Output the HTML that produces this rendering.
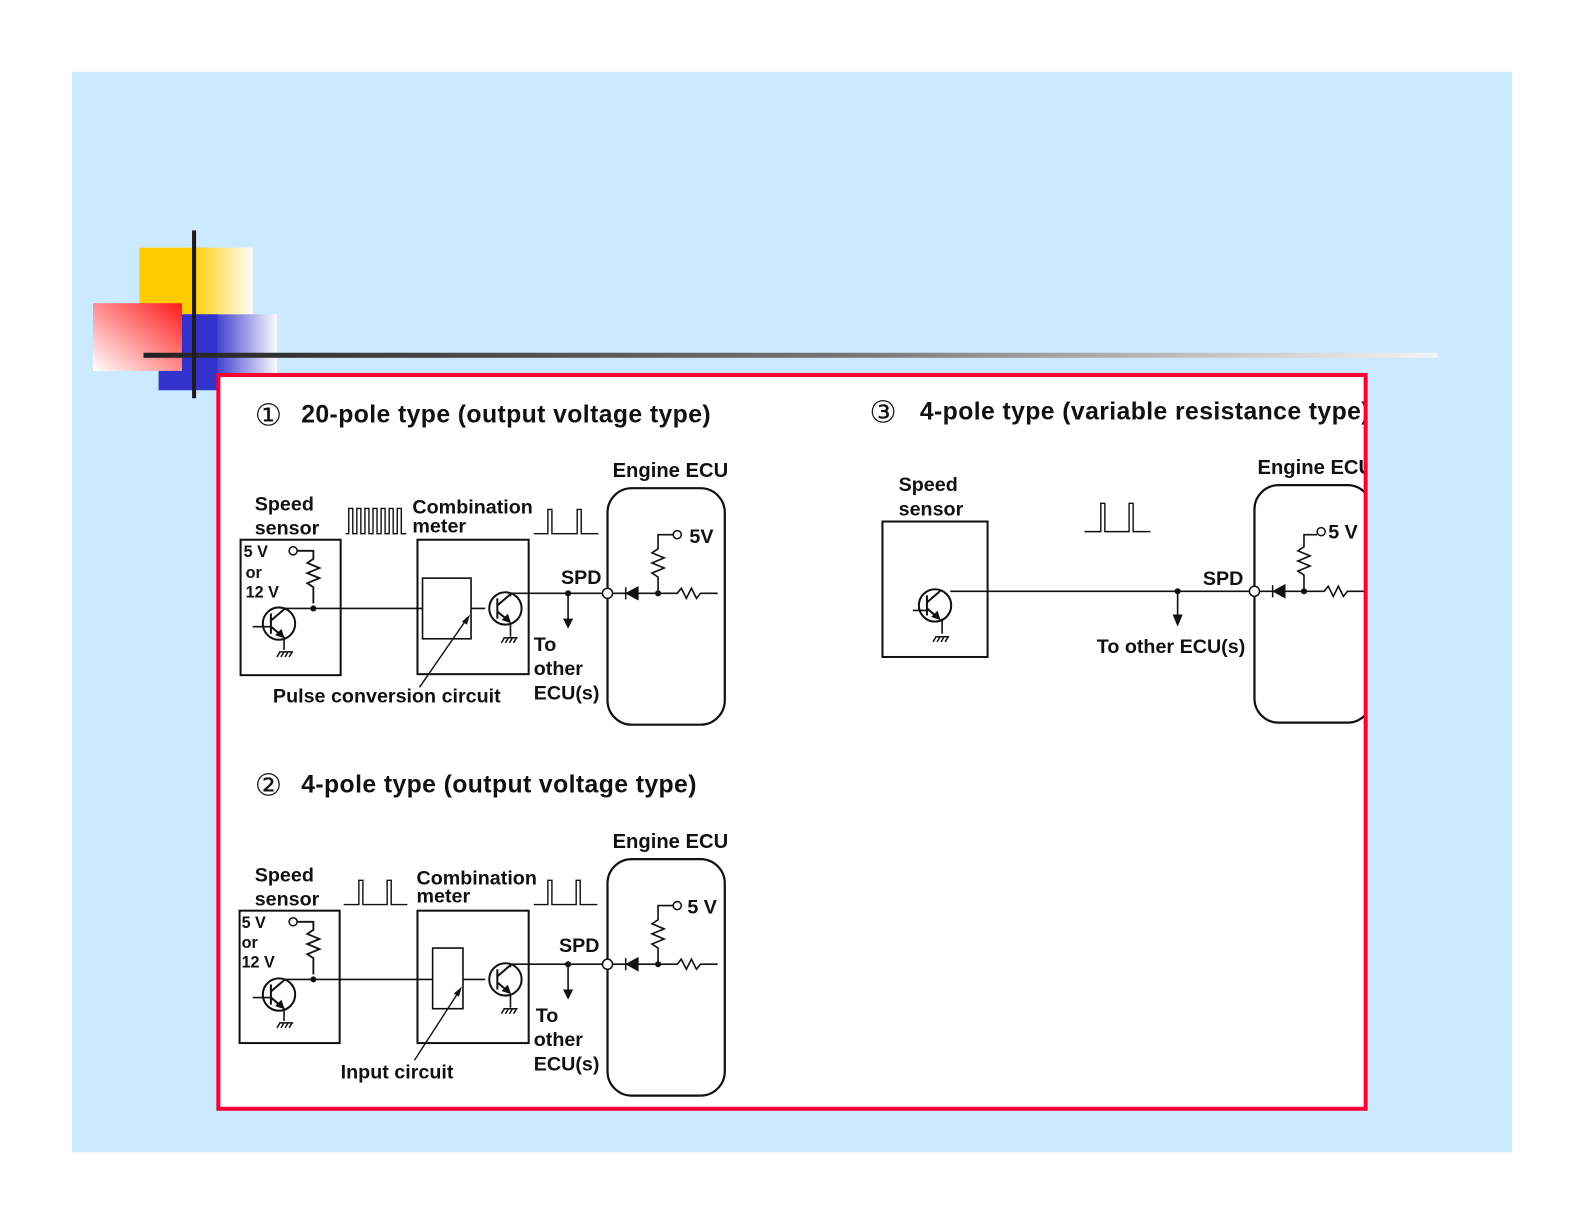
<!DOCTYPE html>
<html><head><meta charset="utf-8"><style>
html,body{margin:0;padding:0;background:#fff;}
svg{display:block;}
text{font-family:"Liberation Sans",Arial,sans-serif;font-weight:bold;fill:#111;}
.t{font-size:24.5px;letter-spacing:0.4px;}
.l{font-size:19.5px;}
.c{font-size:30px;font-weight:normal;}
</style></head><body>
<svg width="1585" height="1225" viewBox="0 0 1568 1212" preserveAspectRatio="none" xmlns="http://www.w3.org/2000/svg">
<defs>
<linearGradient id="gy" x1="0" x2="1" y1="0" y2="0"><stop offset="0.45" stop-color="#ffcc00"/><stop offset="1" stop-color="#fffdf8"/></linearGradient>
<linearGradient id="gb" x1="0" x2="1" y1="0" y2="0"><stop offset="0.45" stop-color="#3333cc"/><stop offset="1" stop-color="#fafaff"/></linearGradient>
<linearGradient id="gr" x1="1" y1="0" x2="0" y2="1"><stop offset="0" stop-color="#ff1a1a"/><stop offset="1" stop-color="#ffffff"/></linearGradient>
<linearGradient id="gl" x1="0" x2="1"><stop offset="0" stop-color="#222"/><stop offset="0.55" stop-color="#777"/><stop offset="1" stop-color="#f4f4f4"/></linearGradient>
<g id="gnd"><path d="M-7 0h14M-6 0l-3 5M-2 0l-3 5M2 0l-3 5M6 0l-3 5" stroke="#111" stroke-width="1.5" fill="none"/></g>
<g id="tr" stroke="#111" stroke-width="2" fill="none">
<circle r="16"/><path d="M-8 -10v20M-8 -3l14 -12M-8 3l12 10"/><path d="M4 13l-6 -2l4 -4z" fill="#111"/>
</g>
</defs>
<rect x="0" y="0" width="1568" height="1212" fill="#fff"/>
<rect x="71" y="71" width="1425" height="1069" fill="#cceaff"/>
<!-- decoration -->
<rect x="138" y="245" width="112" height="67" fill="url(#gy)"/>
<rect x="157" y="311" width="117" height="75" fill="url(#gb)"/>
<rect x="157" y="311" width="58" height="75" fill="#3333cc"/>
<rect x="92" y="300" width="88" height="67" fill="url(#gr)"/>
<rect x="142" y="349" width="1280" height="5" fill="url(#gl)"/>
<rect x="190" y="228" width="4" height="166" fill="#1c1c1c"/>
<!-- frame -->
<rect x="216" y="371" width="1135" height="726" fill="#fff"/>

<!-- panel 1 -->
<g>
<text x="252" y="505" class="l">Speed</text>
<text x="252" y="529" class="l">sensor</text>
<rect x="238" y="534" width="99" height="134" fill="none" stroke="#111" stroke-width="2"/>
<text x="241" y="551" font-size="16">5 V</text>
<text x="243" y="572" font-size="16">or</text>
<text x="243" y="591" font-size="16">12 V</text>
<circle cx="290" cy="545" r="4" fill="#fff" stroke="#111" stroke-width="1.5"/>
<path d="M294 545h16v8l-6 4l12 5l-12 5l12 5l-12 5l6 4v16" stroke="#111" stroke-width="1.8" fill="none"/>
<circle cx="310" cy="602" r="3" fill="#111"/>
<use href="#tr" x="276" y="617"/>
<path d="M250 620h18M280 602h138M281 630v13M466 602h14M505 590v-3h96M562 587v28" stroke="#111" stroke-width="1.6" fill="none"/>
<path d="M557 612h10l-5 10z" fill="#111"/>
<use href="#gnd" x="283" y="645"/>
<rect x="413" y="534" width="110" height="133" fill="none" stroke="#111" stroke-width="2"/>
<rect x="418" y="572" width="48" height="60" fill="none" stroke="#111" stroke-width="1.6"/>
<use href="#tr" x="500" y="602"/>
<path d="M505 616v14" stroke="#111" stroke-width="1.6"/>
<use href="#gnd" x="505" y="631"/>
<circle cx="562" cy="587" r="3" fill="#111"/>
<text x="555" y="578" class="l">SPD</text>
<rect x="601" y="483" width="116" height="234" rx="24" fill="none" stroke="#111" stroke-width="2.2"/>
<circle cx="601" cy="587" r="5" fill="#fff" stroke="#111" stroke-width="1.5"/>
<path d="M606 587h64l4 -5l5 10l5 -10l5 10l4 -5h17" stroke="#111" stroke-width="1.6" fill="none"/>
<path d="M619 581v12M631 581l-11 6l11 6z" stroke="#111" stroke-width="1.5" fill="#111"/>
<path d="M651 587v-16l-6 -4l12 -5l-12 -5l12 -5l-12 -5l6 -4v-14h15" stroke="#111" stroke-width="1.6" fill="none"/>
<circle cx="651" cy="587" r="3" fill="#111"/>
<circle cx="670" cy="529" r="4" fill="#fff" stroke="#111" stroke-width="1.5"/>
<text x="606" y="472" font-size="20">Engine ECU</text>
<text x="528" y="644" class="l">To</text>
<text x="528" y="668" class="l">other</text>
<text x="528" y="692" class="l">ECU(s)</text>
</g>
<text x="252" y="421" class="c">①</text>
<text x="298" y="418" class="t">20-pole type (output voltage type)</text>
<text x="682" y="537" class="l">5V</text>
<text x="408" y="508" class="l">Combination</text>
<text x="408" y="527" class="l">meter</text>
<path d="M342 528h3v-25h4v25h4v-25h4v25h4v-25h4v25h4v-25h4v25h4v-25h4v25h4v-25h4v25h4v-25h4v25h5" stroke="#111" stroke-width="1.4" fill="none"/>
<path d="M528 528h14v-24h4v24h25v-24h4v24h17" stroke="#111" stroke-width="1.4" fill="none"/>
<path d="M415 680L462 612" stroke="#111" stroke-width="1.4"/><path d="M465 608l-8 7l5 3z" fill="#111"/>
<text x="270" y="695" class="l">Pulse conversion circuit</text>

<!-- panel 2 -->
<text x="252" y="787" class="c">②</text>
<text x="298" y="784" class="t">4-pole type (output voltage type)</text>
<g transform="translate(0,367)">
<text x="252" y="505" class="l">Speed</text>
<text x="252" y="529" class="l">sensor</text>
<rect x="237" y="534" width="99" height="131" fill="none" stroke="#111" stroke-width="2"/>
<text x="239" y="551" font-size="16">5 V</text>
<text x="239" y="571" font-size="16">or</text>
<text x="239" y="590" font-size="16">12 V</text>
<circle cx="290" cy="545" r="4" fill="#fff" stroke="#111" stroke-width="1.5"/>
<path d="M294 545h16v8l-6 4l12 5l-12 5l12 5l-12 5l6 4v16" stroke="#111" stroke-width="1.8" fill="none"/>
<circle cx="310" cy="602" r="3" fill="#111"/>
<use href="#tr" x="276" y="617"/>
<path d="M250 620h18M280 602h148M281 630v13M458 602h22M505 590v-3h96M562 587v28" stroke="#111" stroke-width="1.6" fill="none"/>
<path d="M557 612h10l-5 10z" fill="#111"/>
<use href="#gnd" x="283" y="645"/>
<rect x="413" y="534" width="110" height="131" fill="none" stroke="#111" stroke-width="2"/>
<rect x="428" y="571" width="30" height="60" fill="none" stroke="#111" stroke-width="1.6"/>
<use href="#tr" x="500" y="602"/>
<path d="M505 616v14" stroke="#111" stroke-width="1.6"/>
<use href="#gnd" x="505" y="631"/>
<circle cx="562" cy="587" r="3" fill="#111"/>
<text x="553" y="575" class="l">SPD</text>
<rect x="601" y="483" width="116" height="234" rx="24" fill="none" stroke="#111" stroke-width="2.2"/>
<circle cx="601" cy="587" r="5" fill="#fff" stroke="#111" stroke-width="1.5"/>
<path d="M606 587h64l4 -5l5 10l5 -10l5 10l4 -5h17" stroke="#111" stroke-width="1.6" fill="none"/>
<path d="M619 581v12M631 581l-11 6l11 6z" stroke="#111" stroke-width="1.5" fill="#111"/>
<path d="M651 587v-16l-6 -4l12 -5l-12 -5l12 -5l-12 -5l6 -4v-14h15" stroke="#111" stroke-width="1.6" fill="none"/>
<circle cx="651" cy="587" r="3" fill="#111"/>
<circle cx="670" cy="529" r="4" fill="#fff" stroke="#111" stroke-width="1.5"/>
<text x="680" y="537" class="l">5 V</text>
<text x="606" y="472" font-size="20">Engine ECU</text>
<text x="530" y="644" class="l">To</text>
<text x="528" y="668" class="l">other</text>
<text x="528" y="692" class="l">ECU(s)</text>
<text x="412" y="508" class="l">Combination</text>
<text x="412" y="526" class="l">meter</text>
<path d="M340 528h15v-24h4v24h24v-24h4v24h16" stroke="#111" stroke-width="1.4" fill="none"/>
<path d="M528 528h14v-24h4v24h24v-24h4v24h17" stroke="#111" stroke-width="1.4" fill="none"/>
<path d="M410 682L454 614" stroke="#111" stroke-width="1.4"/><path d="M457 609l-8 7l5 3z" fill="#111"/>
<text x="337" y="700" class="l">Input circuit</text>
</g>

<!-- panel 3 -->
<svg x="0" y="0" width="1350" height="1212" overflow="hidden">
<text x="860" y="418" class="c">③</text>
<text x="910" y="415" class="t">4-pole type (variable resistance type)</text>
<text x="889" y="486" class="l">Speed</text>
<text x="889" y="510" class="l">sensor</text>
<rect x="873" y="516" width="104" height="134" fill="none" stroke="#111" stroke-width="2"/>
<use href="#tr" x="925" y="599"/>
<path d="M903 604h15M940 585h300M1165 585v30M932 612v15" stroke="#111" stroke-width="1.6" fill="none"/>
<path d="M1160 608h10l-5 12z" fill="#111"/>
<use href="#gnd" x="932" y="630"/>
<circle cx="1165" cy="585" r="3" fill="#111"/>
<text x="1085" y="646" class="l">To other ECU(s)</text>
<text x="1190" y="579" class="l">SPD</text>
<path d="M1073 526h16v-28h4v28h24v-28h4v28h17" stroke="#111" stroke-width="1.4" fill="none"/>
<rect x="1241" y="480" width="116" height="235" rx="24" fill="none" stroke="#111" stroke-width="2.2"/>
<text x="1244" y="469" font-size="20">Engine ECU</text>
<circle cx="1241" cy="585" r="5" fill="#fff" stroke="#111" stroke-width="1.5"/>
<path d="M1246 585h64l4 -5l5 10l5 -10l5 10l4 -5h17" stroke="#111" stroke-width="1.6" fill="none"/>
<path d="M1259 579v12M1271 579l-11 6l11 6z" stroke="#111" stroke-width="1.5" fill="#111"/>
<path d="M1290 585v-16l-6 -4l12 -5l-12 -5l12 -5l-12 -5l6 -4v-12h13" stroke="#111" stroke-width="1.6" fill="none"/>
<circle cx="1290" cy="585" r="3" fill="#111"/>
<circle cx="1307" cy="526" r="4" fill="#fff" stroke="#111" stroke-width="1.5"/>
<text x="1314" y="533" class="l">5 V</text>
</svg>
<rect x="216" y="371" width="1135" height="726" fill="none" stroke="#ff0033" stroke-width="4"/>
</svg>
</body></html>
